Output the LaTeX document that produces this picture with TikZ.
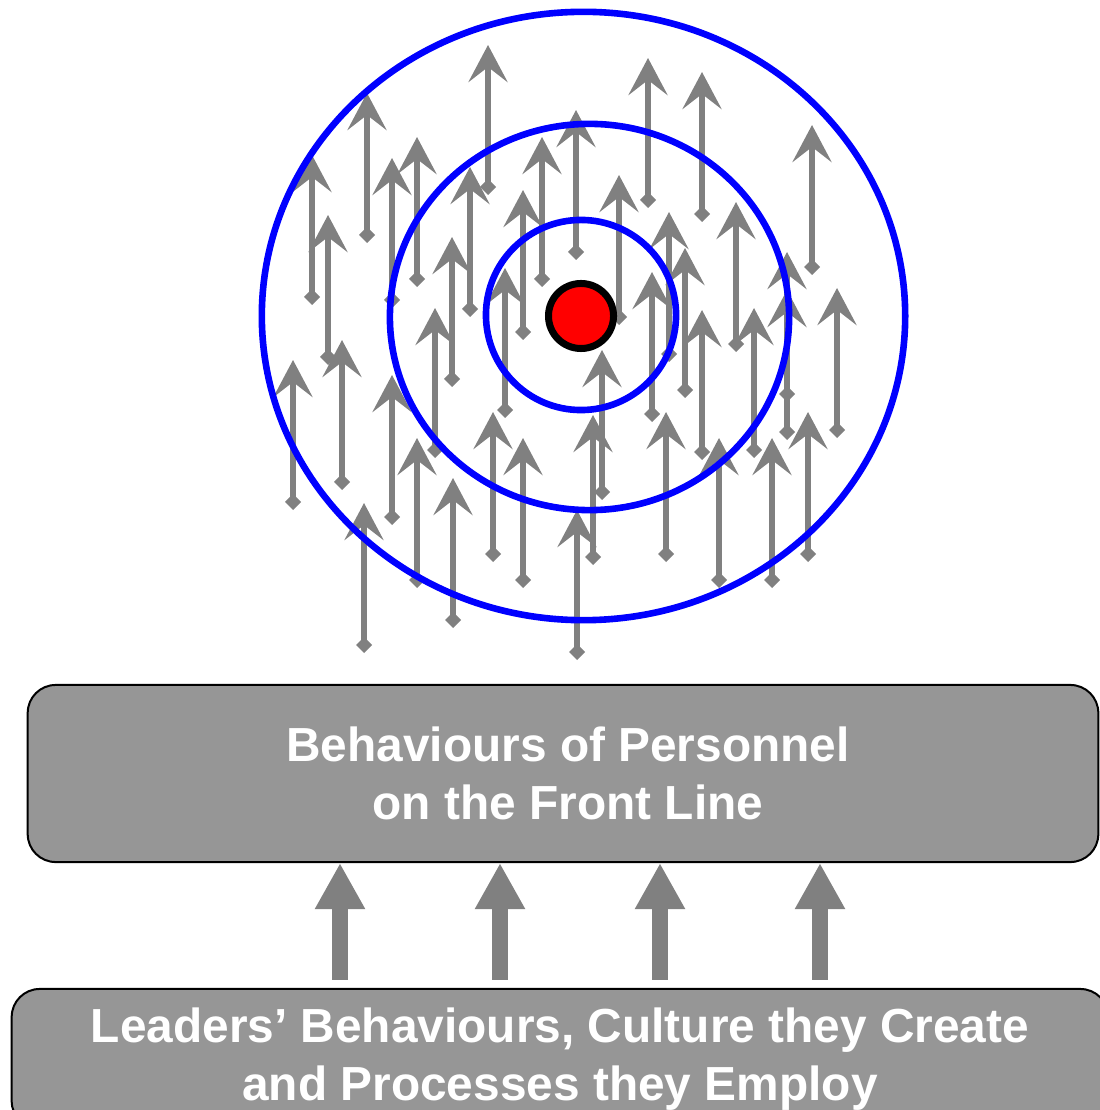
\documentclass[tikz,border=0pt]{standalone}
\usepackage{fontspec}
\setsansfont{Liberation Sans}
\usepackage{tikz}
\usetikzlibrary{arrows.meta}

\definecolor{gris}{HTML}{808080}
\definecolor{grisclaro}{HTML}{969696}

\tikzset{
  caja/.style={draw=black, line width=0.02cm, fill=grisclaro, rounded corners=0.28cm,
    text=white, font=\sffamily\bfseries\fontsize{13.6}{16.4}\selectfont, align=center, inner sep=0pt},
  flecha/.style={gris, line width=0.06cm,
    {Turned Square[width=0.16cm,length=0.16cm]}-{Stealth[length=0.37cm,width=0.39cm,inset=0.15cm]}},
  flechagorda/.style={gris, line width=0.16cm, -{Triangle[length=0.46cm,width=0.47cm]}},
  anillo/.style={blue, line width=0.066cm},
}

\begin{document}
\begin{tikzpicture}[x=0.01cm,y=-0.01cm]
  \useasboundingbox (0,0) rectangle (1099,1110);

  % Flechas finas: x y altura de la punta (todas del mismo largo)
  \def\largo{150}
  \foreach \px/\py in {293/360, 312/155, 328/215, 342/340, 364/503, 367/93,
      392/158, 392/375, 417/137, 417/438, 435/308, 452/237, 453/478, 470/167,
      488/45, 493/412, 505/268, 523/190, 523/438, 542/137, 576/110, 577/510,
      593/415, 602/350, 619/175, 652/272, 648/58, 666/412, 669/212, 685/248,
      702/72, 702/310, 719/438, 736/202, 754/308, 772/438, 787/252, 787/290,
      808/412, 812/125, 837/288}
    \draw[flecha] (\px,\py+\largo) -- (\px,\py);

  % Anillos de la diana
  \draw[anillo] (583.5,316) ellipse [x radius=3.215cm, y radius=3.04cm];
  \draw[anillo] (589.5,317) ellipse [x radius=1.995cm, y radius=1.93cm];
  \draw[anillo] (581,315) ellipse [x radius=0.95cm, y radius=0.95cm];

  % Centro
  \draw[line width=0.07cm, fill=red] (581,316) circle [radius=0.325cm];

  % Cajas
  \node[caja, minimum width=10.70cm, minimum height=1.77cm] (frente) at (563,773.5) {};
  \node[white, font=\sffamily\bfseries\fontsize{13.6}{16.4}\selectfont, align=center, inner sep=0pt]
    at ([xshift=0.05cm]frente.center) {Behaviours of Personnel\\on the Front Line};
  \node[caja, minimum width=10.96cm, minimum height=1.40cm] (lideres) at (560,1059)
    {Leaders’ Behaviours, Culture they Create\\and Processes they Employ};

  % Flechas gruesas entre cajas
  \foreach \px in {340,500,660,820} {
    \coordinate (b) at (\px,0);
    \draw[flechagorda, shorten <=0.08cm] (lideres.north -| b) -- (frente.south -| b);
  }
\end{tikzpicture}
\end{document}
